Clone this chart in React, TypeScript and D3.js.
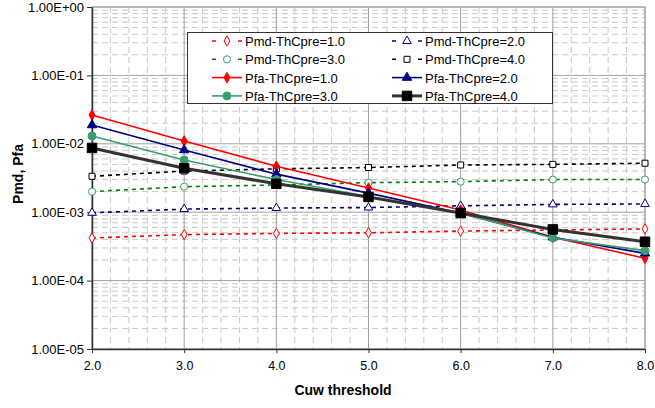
import React, { useRef, useEffect } from "react";
import * as d3 from "d3";

const thresholds = [2, 3, 4, 5, 6, 7, 8];
const xTicks = ["2.0", "3.0", "4.0", "5.0", "6.0", "7.0", "8.0"];
const yTicks = ["1.00E-05", "1.00E-04", "1.00E-03", "1.00E-02", "1.00E-01", "1.00E+00"];

const pmd1 = [0.00042, 0.00047, 0.00049, 0.0005, 0.00053, 0.00055, 0.00057];
const pmd2 = [0.00098, 0.00111, 0.00115, 0.00117, 0.00124, 0.0013, 0.00132];
const pmd3 = [0.002, 0.00236, 0.0025, 0.0027, 0.0028, 0.003, 0.003];
const pmd4 = [0.00335, 0.004, 0.0043, 0.0045, 0.0049, 0.005, 0.0052];
const pfa1 = [0.0264, 0.011, 0.0047, 0.00226, 0.00108, 0.00043, 0.000212];
const pfa2 = [0.0188, 0.0081, 0.0036, 0.0019, 0.00097, 0.00043, 0.00025];
const pfa3 = [0.013, 0.0058, 0.003, 0.0017, 0.00097, 0.00042, 0.000274];
const pfa4 = [0.0087, 0.0044, 0.0026, 0.00167, 0.00097, 0.00056, 0.00037];

const series = [
  { name: "Pmd-ThCpre=1.0", values: pmd1, color: "#ff0000", mcolor: "#ff0000", dash: "4,4", width: 1.6, symbol: d3.symbolDiamond, size: 30, filled: false },
  { name: "Pmd-ThCpre=2.0", values: pmd2, color: "#000080", mcolor: "#000080", dash: "4,4", width: 1.6, symbol: d3.symbolTriangle, size: 32, filled: false },
  { name: "Pmd-ThCpre=3.0", values: pmd3, color: "#008000", mcolor: "#3a9d6e", dash: "4,4", width: 1.6, symbol: d3.symbolCircle, size: 40, filled: false },
  { name: "Pmd-ThCpre=4.0", values: pmd4, color: "#000000", mcolor: "#000000", dash: "4,4", width: 1.6, symbol: d3.symbolSquare, size: 36, filled: false },
  { name: "Pfa-ThCpre=1.0", values: pfa1, color: "#ff0000", mcolor: "#ff0000", dash: null, width: 1.6, symbol: d3.symbolDiamond, size: 32, filled: true },
  { name: "Pfa-ThCpre=2.0", values: pfa2, color: "#000080", mcolor: "#000080", dash: null, width: 1.6, symbol: d3.symbolTriangle, size: 38, filled: true },
  { name: "Pfa-ThCpre=3.0", values: pfa3, color: "#3a9d6e", mcolor: "#3a9d6e", dash: null, width: 1.6, symbol: d3.symbolCircle, size: 50, filled: true },
  { name: "Pfa-ThCpre=4.0", values: pfa4, color: "#333333", mcolor: "#000000", dash: null, width: 3, symbol: d3.symbolSquare, size: 90, filled: true },
];

const App = () => {
  const ref = useRef(null);

  useEffect(() => {
    const elt = ref.current;
    if (!elt) return;
    d3.select(elt).select("svg").remove();

    const W = 655, H = 408;
    const left = 92, right = 645, top = 7, bottom = 349;
    const font = "'Liberation Sans', Arial, sans-serif";

    const svg = d3
      .select(elt)
      .append("svg")
      .attr("width", W)
      .attr("height", H)
      .style("position", "absolute")
      .style("left", "0px")
      .style("top", "0px")
      .style("font-family", font);

    svg.append("rect").attr("width", W).attr("height", H).attr("fill", "#fff");

    const x = d3.scaleLinear().domain([2, 8]).range([left, right]);
    const y = d3.scaleLog().domain([1e-5, 1]).range([bottom, top]);

    // grid
    const grid = svg.append("g");
    const minorX = d3.range(20, 81, 2).map(d => d / 10).filter(d => d % 1 !== 0);
    grid.selectAll(".mx").data(minorX).enter().append("line")
      .attr("x1", d => x(d)).attr("x2", d => x(d))
      .attr("y1", top).attr("y2", bottom)
      .attr("stroke", "#c8c8c8").attr("stroke-dasharray", "6,4").attr("stroke-width", 1);
    const minorY = [];
    for (let e = -5; e < 0; e++) for (let m = 2; m < 10; m++) minorY.push(m * Math.pow(10, e));
    grid.selectAll(".my").data(minorY).enter().append("line")
      .attr("x1", left).attr("x2", right)
      .attr("y1", d => y(d)).attr("y2", d => y(d))
      .attr("stroke", "#c8c8c8").attr("stroke-dasharray", "6,4").attr("stroke-width", 1);
    grid.selectAll(".Mx").data(thresholds).enter().append("line")
      .attr("x1", d => x(d)).attr("x2", d => x(d))
      .attr("y1", top).attr("y2", bottom)
      .attr("stroke", "#a0a0a0").attr("stroke-width", 1);
    const decades = [1e-5, 1e-4, 1e-3, 1e-2, 1e-1, 1];
    grid.selectAll(".My").data(decades).enter().append("line")
      .attr("x1", left).attr("x2", right)
      .attr("y1", d => y(d)).attr("y2", d => y(d))
      .attr("stroke", "#a0a0a0").attr("stroke-width", 1);

    // frame
    svg.append("rect").attr("x", left).attr("y", top)
      .attr("width", right - left).attr("height", bottom - top)
      .attr("fill", "none").attr("stroke", "#a0a0a0");

    // axes
    const yAxis = svg.append("g").attr("transform", `translate(${left},0)`)
      .call(d3.axisLeft(y).tickValues(decades).tickFormat((d, i) => yTicks[i]).tickSize(5).tickSizeOuter(0));
    yAxis.select(".domain").attr("stroke", "#333").attr("stroke-width", 1.5);
    yAxis.selectAll(".tick line").attr("stroke", "#333");
    yAxis.selectAll("text").attr("font-size", 13).attr("fill", "#000")
      .attr("font-family", font).attr("x", -8);

    const xAxis = svg.append("g").attr("transform", `translate(0,${bottom})`)
      .call(d3.axisBottom(x).tickValues(thresholds).tickFormat((d, i) => xTicks[i]).tickSize(4).tickSizeOuter(0));
    xAxis.select(".domain").attr("stroke", "#333").attr("stroke-width", 1.5);
    xAxis.selectAll(".tick line").attr("stroke", "#333");
    xAxis.selectAll("text").attr("font-size", 12.5).attr("fill", "#000")
      .attr("font-family", font).attr("y", 12);

    svg.append("text").attr("x", 343).attr("y", 395).attr("text-anchor", "middle")
      .attr("font-size", 14).attr("font-weight", "bold").text("Cuw threshold");
    svg.append("text").attr("transform", "translate(23,174) rotate(-90)")
      .attr("text-anchor", "middle").attr("font-size", 14).attr("font-weight", "bold").text("Pmd, Pfa");

    // lines
    const line = d3.line().x((d, i) => x(thresholds[i])).y(d => y(d));
    series.forEach(s => {
      svg.append("path").attr("d", line(s.values)).attr("fill", "none")
        .attr("stroke", s.color).attr("stroke-width", s.width)
        .attr("stroke-dasharray", s.dash || null);
      svg.selectAll(null).data(s.values).enter().append("path")
        .attr("d", d3.symbol().type(s.symbol).size(s.size)())
        .attr("transform", (d, i) => `translate(${x(thresholds[i])},${y(d)})`)
        .attr("fill", s.filled ? s.mcolor : "#fff")
        .attr("stroke", s.mcolor).attr("stroke-width", 1);
    });

    // legend
    const lg = svg.append("g");
    lg.append("rect").attr("x", 187.5).attr("y", 32.5).attr("width", 365).attr("height", 71)
      .attr("fill", "#fff").attr("stroke", "#333");
    series.forEach((s, idx) => {
      const col = idx % 2, row = Math.floor(idx / 2);
      const sx = col === 0 ? 212 : 392;
      const cy = 41 + row * 18.3;
      const g = lg.append("g");
      g.append("line").attr("x1", sx).attr("x2", sx + 30).attr("y1", cy).attr("y2", cy)
        .attr("stroke", s.color).attr("stroke-width", s.width)
        .attr("stroke-dasharray", s.dash ? "4,22" : null);
      g.append("path").attr("d", d3.symbol().type(s.symbol).size(s.size)())
        .attr("transform", `translate(${sx + 15},${cy})`)
        .attr("fill", s.filled ? s.mcolor : "#fff").attr("stroke", s.mcolor);
      g.append("text").attr("x", sx + 33).attr("y", cy + 5).attr("font-size", 13).text(s.name);
    });
  }, []);

  return <div ref={ref}></div>;
};

export default App;
